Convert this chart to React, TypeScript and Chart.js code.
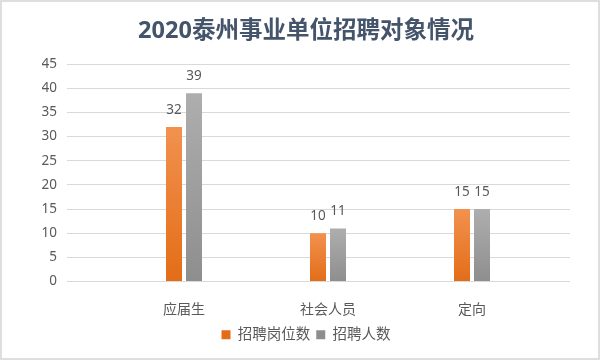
import React, { useEffect, useRef } from 'react';
import { Chart, registerables } from 'chart.js';

Chart.register(...registerables);

const chartTitle = '2020泰州事业单位招聘对象情况';
const categories = ['应届生', '社会人员', '定向'];
const seriesNames = ['招聘岗位数', '招聘人数'];
const postCounts = [32, 10, 15];
const peopleCounts = [39, 11, 15];
const yMax = 45;
const yStep = 5;

const FONT = "'Noto Sans', 'Noto Sans CJK SC', sans-serif";
const TEXT = '#595959';

const barFill = (top: string, bottom: string, solid: string) => (ctx: any) => {
  if (ctx.type !== 'data') return solid;
  const chart = ctx.chart;
  const ys = chart.scales && chart.scales.y;
  if (!ys || !chart.chartArea) return solid;
  const v = ctx.parsed ? ctx.parsed.y : 0;
  const y0 = ys.getPixelForValue(0);
  const y1 = ys.getPixelForValue(v);
  if (!isFinite(y0) || !isFinite(y1) || y0 === y1) return solid;
  const g = chart.ctx.createLinearGradient(0, y1, 0, y0);
  g.addColorStop(0, top);
  g.addColorStop(1, bottom);
  return g;
};

const framePlugin = {
  id: 'frame',
  beforeDraw(chart: any) {
    const c = chart.ctx;
    c.save();
    c.fillStyle = '#ffffff';
    c.fillRect(0, 0, chart.width, chart.height);
    c.restore();
  },
  afterDraw(chart: any) {
    const c = chart.ctx;
    c.save();
    c.strokeStyle = '#dedede';
    c.lineWidth = 2;
    c.strokeRect(1, 1, chart.width - 2, chart.height - 2);
    c.restore();
  },
};

const valueLabels = {
  id: 'valueLabels',
  afterDatasetsDraw(chart: any) {
    const c = chart.ctx;
    c.save();
    c.font = `13.5px ${FONT}`;
    c.fillStyle = TEXT;
    c.textAlign = 'center';
    c.textBaseline = 'alphabetic';
    chart.data.datasets.forEach((ds: any, di: number) => {
      const meta = chart.getDatasetMeta(di);
      meta.data.forEach((bar: any, i: number) => {
        const v = ds.data[i].y;
        c.fillText(String(v), bar.x, bar.y - 13);
      });
    });
    c.restore();
  },
};

export default function App() {
  const ref = useRef<HTMLCanvasElement>(null);
  useEffect(() => {
    if (!ref.current) return;
    const chart = new Chart(ref.current, {
      type: 'bar',
      data: {
        datasets: [
          {
            label: seriesNames[0],
            data: postCounts.map((v, i) => ({ x: i + 1, y: v })),
            backgroundColor: barFill('#F2914F', '#E36D17', '#ED7D31'),
            borderWidth: 0,
            categoryPercentage: 40 / 144,
            barPercentage: 0.8,
          },
          {
            label: seriesNames[1],
            data: peopleCounts.map((v, i) => ({ x: i + 1, y: v })),
            backgroundColor: barFill('#AEAEAE', '#8E8E8E', '#A5A5A5'),
            borderWidth: 0,
            categoryPercentage: 40 / 144,
            barPercentage: 0.8,
          },
        ],
      },
      options: {
        responsive: false,
        animation: false,
        devicePixelRatio: 1,
        layout: { padding: { left: 42, right: 30, top: 0, bottom: 8 } },
        font: { family: FONT },
        scales: {
          x: {
            type: 'linear',
            min: 1 - 117 / 144,
            max: 1 - 117 / 144 + 503 / 144,
            offset: false,
            grid: { display: false, offset: false },
            border: { display: false },
            afterBuildTicks: (scale: any) => {
              scale.ticks = categories.map((_, i) => ({ value: i + 1 }));
            },
            afterFit: (scale: any) => {
              scale.height = 40;
            },
            ticks: {
              autoSkip: false,
              maxRotation: 0,
              padding: 12,
              color: TEXT,
              font: { family: FONT, size: 14 },
              callback: (value: any) => categories[Math.round(Number(value)) - 1] ?? '',
            },
          },
          y: {
            min: 0,
            max: yMax,
            grid: { color: '#d9d9d9', lineWidth: 1, drawTicks: false },
            border: { display: false },
            afterFit: (scale: any) => {
              scale.width = 25;
            },
            ticks: {
              stepSize: yStep,
              padding: 10,
              color: TEXT,
              font: { family: FONT, size: 13.5 },
            },
          },
        },
        plugins: {
          title: {
            display: true,
            text: chartTitle,
            color: '#44546A',
            font: { family: FONT, size: 23.5, weight: 'bold' },
            padding: { top: 17, bottom: 19 },
          },
          legend: {
            display: true,
            position: 'bottom',
            labels: {
              boxWidth: 9,
              boxHeight: 9,
              padding: 6,
              color: TEXT,
              font: { family: FONT, size: 14.5 },
            },
          },
          tooltip: { enabled: false },
        },
      },
      plugins: [framePlugin, valueLabels],
    } as any);
    return () => chart.destroy();
  }, []);
  return (
    <div style={{ position: 'fixed', left: 0, top: 0, width: 600, height: 360 }}>
      <canvas ref={ref} width={600} height={360} />
    </div>
  );
}
